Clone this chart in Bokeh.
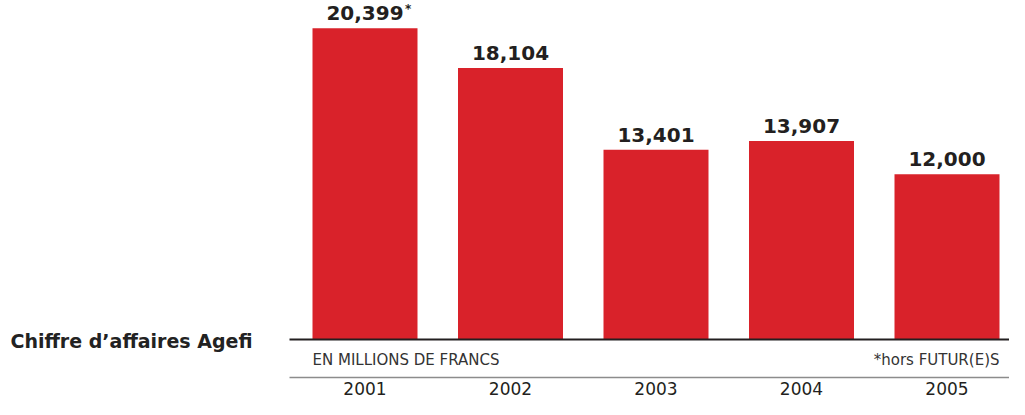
from bokeh.plotting import figure
from bokeh.models import ColumnDataSource, Range1d
from bokeh.core.properties import value
from bokeh.embed import file_html
from bokeh.resources import INLINE

# ---- data ----
years = ["2001", "2002", "2003", "2004", "2005"]
revenue = [20399, 18104, 13401, 13907, 12000]
value_labels = ["20,399", "18,104", "13,401", "13,907", "12,000"]
title_text = "Chiffre d\u2019affaires Agefi"
unit_text = "EN MILLIONS DE FRANCS"
note_text = "*hors FUTUR(E)S"

# ---- layout constants ----
W, H = 1009, 399
BASE = 2480            # value at the baseline
SCALE = 17.37 / 1000   # px per unit
BASE_PX = 339          # baseline position from top (px)
X0_PX = 364.5          # first bar centre (px)
STEP_PX = 145.5        # distance between bars (px)
BAR_W = 105 / STEP_PX
LABEL_GAP = 15 / SCALE  # bar top -> centre of value label

def ypx(px_from_top):
    return BASE + (BASE_PX - px_from_top) / SCALE

x_start = -X0_PX / STEP_PX
x_end = (W - X0_PX) / STEP_PX

RED = "#d9222a"
DARK = "#231f20"

p = figure(width=W, height=H, output_backend="svg", toolbar_location=None,
           x_range=Range1d(x_start, x_end), y_range=Range1d(ypx(H), ypx(0)),
           min_border=0, min_border_left=0, min_border_right=0,
           min_border_top=0, min_border_bottom=0)
p.axis.visible = False
p.grid.visible = False
p.outline_line_color = None
p.background_fill_color = "white"
p.border_fill_color = "white"

idx = list(range(len(years)))
src = ColumnDataSource(dict(x=idx, top=revenue, year=years, lab=value_labels,
                            bottom=[BASE] * len(years),
                            ly=[v + LABEL_GAP for v in revenue]))

p.vbar(x="x", top="top", bottom="bottom", width=BAR_W, source=src,
       fill_color=RED, line_color=None)

# value labels
p.text(x="x", y="ly", text="lab", source=src, text_align="center",
       text_baseline="middle",
       text_font=value("DejaVu Sans"), text_font_style="bold",
       text_font_size="20px", text_color=DARK)
# asterisk on first label
p.text(x=[idx[0]], y=[revenue[0] + 19 / SCALE], text=["*"], text_align="left",
       text_baseline="middle", x_offset=40,
       text_font=value("DejaVu Sans"), text_font_style="bold",
       text_font_size="12px", text_color=DARK)

# baseline and grey separator
line_x0 = -(52.5 + 23) / STEP_PX
p.segment(x0=[line_x0], x1=[x_end], y0=[BASE], y1=[BASE],
          line_color=DARK, line_width=2)
p.segment(x0=[line_x0], x1=[x_end], y0=[ypx(377)], y1=[ypx(377)],
          line_color="#8c8c8c", line_width=1.5)

# year labels
p.text(x="x", y=ypx(387.5), text="year", source=src, text_align="center",
       text_baseline="middle", text_font=value("DejaVu Sans"),
       text_font_size="17px", text_color=DARK)

# unit and note
p.text(x=[-BAR_W / 2], y=[ypx(359)], text=[unit_text], text_align="left",
       text_baseline="middle", text_font=value("DejaVu Sans"),
       text_font_size="15px", text_color="#333333")
p.text(x=[len(years) - 1 + BAR_W / 2], y=[ypx(359)], text=[note_text],
       text_align="right", text_baseline="middle",
       text_font=value("DejaVu Sans"), text_font_size="15px",
       text_color="#333333")

# title on the left
p.text(x=[x_start + 10 / STEP_PX], y=[ypx(340)], text=[title_text],
       text_align="left", text_baseline="middle",
       text_font=value("DejaVu Sans"), text_font_style="bold",
       text_font_size="19px", text_color="#222222")

open("out.html", "w").write(file_html(p, INLINE))
